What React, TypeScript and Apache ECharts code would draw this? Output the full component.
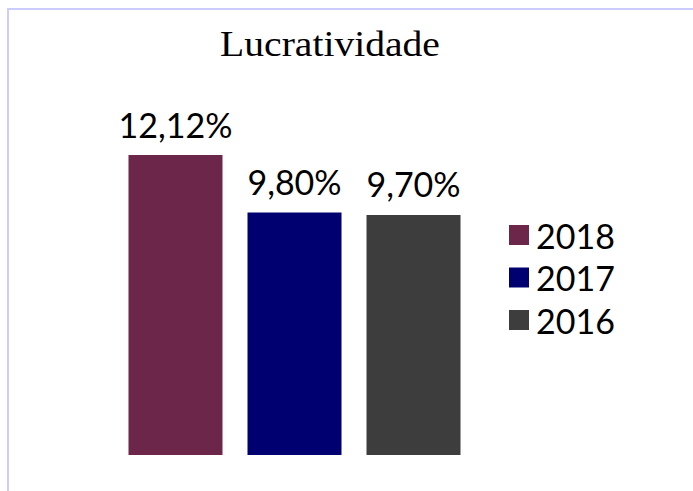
import React, { useEffect, useRef } from "react";
import * as echarts from "echarts";

const titleText = "Lucratividade";
const categories = [""];
const years = ["2018", "2017", "2016"];
const values = [12.12, 9.8, 9.7];
const colors = ["#6B2649", "#000070", "#3D3D3D"];

export default function App() {
  const ref = useRef<HTMLDivElement>(null);
  useEffect(() => {
    if (!ref.current) return;
    const chart = echarts.init(ref.current, null, { renderer: "svg" });
    const fmt = (p: any) => Number(p.value).toFixed(2).replace(".", ",") + "%";
    chart.setOption({
      animation: false,
      backgroundColor: "transparent",
      graphic: [
        {
          type: "text",
          x: 330,
          y: 62,
          scaleX: 1.1,
          style: {
            text: titleText,
            x: 0,
            y: 0,
            textAlign: "center",
            textVerticalAlign: "bottom",
            verticalAlign: "alphabetic",
            font: '36px "Liberation Serif"',
            fill: "#000",
          },
        },
      ],
      legend: {
        orient: "vertical",
        left: 504,
        top: 213,
        itemWidth: 20,
        itemHeight: 20,
        itemGap: 8.5,
        icon: "rect",
        data: years,
        textStyle: {
          fontFamily: "Lato",
          fontSize: 34,
          color: "#000",
          padding: [0, 0, 0, 2],
        },
      },
      grid: { left: 128, right: 232, top: 155, bottom: 36 },
      xAxis: {
        type: "category",
        data: categories,
        show: false,
      },
      yAxis: {
        type: "value",
        min: 0,
        max: values[0],
        show: false,
        splitLine: { show: false },
      },
      series: years.map((y, i) => ({
        name: y,
        type: "bar",
        data: [values[i]],
        barWidth: 94,
        barGap: "26.6%",
        itemStyle: { color: colors[i] },
        label: {
          show: true,
          position: "top",
          distance: 14,
          formatter: fmt,
          fontFamily: "Lato",
          fontSize: 34,
          color: "#000",
        },
      })),
    });
    return () => chart.dispose();
  }, []);
  return (
    <div style={{ position: "fixed", left: 0, top: 0, width: 693, height: 491, background: "#fff" }}>
      <div
        style={{
          position: "absolute",
          left: 7,
          top: 8,
          width: 684,
          height: 481,
          borderTop: "2px solid #ccccff",
          borderLeft: "2px solid #ccccff",
        }}
      />
      <div ref={ref} style={{ position: "absolute", left: 0, top: 0, width: 693, height: 491 }} />
    </div>
  );
}
